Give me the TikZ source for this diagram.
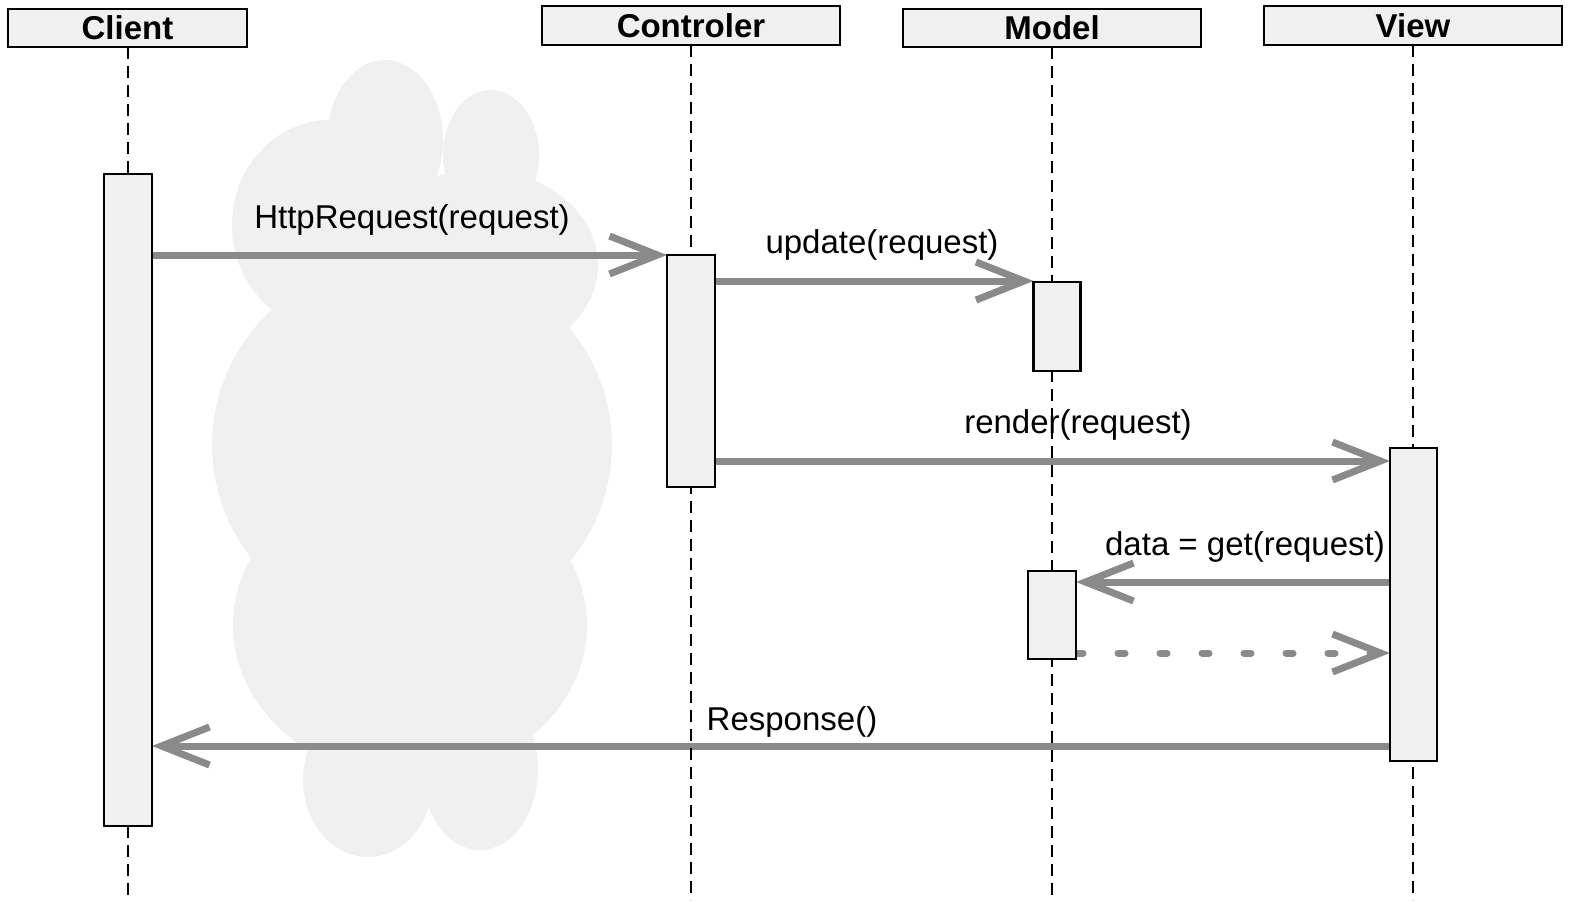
\documentclass[tikz,border=0pt]{standalone}
\usepackage{fontspec}
\setmainfont{Liberation Sans}
\usetikzlibrary{arrows.meta}
\definecolor{boxfill}{HTML}{F0F0F0}
\definecolor{cloudfill}{HTML}{F0F0F0}
\definecolor{msgcol}{HTML}{8A8A8A}
\begin{document}
\begin{tikzpicture}[x=1pt,y=-1pt,
  header/.style={draw=black, line width=2.5pt, fill=boxfill, inner sep=0pt, outer sep=0pt,
    font=\bfseries\fontsize{33}{40}\selectfont},
  act/.style={draw=black, line width=2.5pt, fill=boxfill, inner sep=0pt, outer sep=0pt},
  life/.style={draw=black, line width=2pt, dash pattern=on 12pt off 7pt},
  msg/.style={draw=msgcol, line width=7pt, -{Straight Barb[length=48pt,width=38pt]}},
  ret/.style={msg, dash pattern=on 7pt off 35pt, line cap=round},
  lbl/.style={font=\fontsize{33}{40}\selectfont, inner sep=0pt, anchor=base}]
\useasboundingbox (0,0) rectangle (1580,922);

% cloud backdrop
\begin{scope}[fill=cloudfill]
  \fill (385,140) ellipse [x radius=58, y radius=80];
  \fill (491,155) ellipse [x radius=48, y radius=65];
  \fill (330,225) ellipse [x radius=98, y radius=105];
  \fill (480,265) ellipse [x radius=118, y radius=95];
  \fill (412,445) ellipse [x radius=200, y radius=190];
  \fill (410,625) ellipse [x radius=177, y radius=153];
  \fill (368,780) ellipse [x radius=65, y radius=77];
  \fill (480,770) ellipse [x radius=58, y radius=80];
\end{scope}

% header boxes
\node[header, minimum width=239, minimum height=38] (hc) at (127.5,28) {Client};
\node[header, minimum width=298, minimum height=39] (hk) at (691,25.5) {Controler};
\node[header, minimum width=298, minimum height=38] (hm) at (1052,28) {Model};
\node[header, minimum width=298, minimum height=39] (hv) at (1413,25.5) {View};

\coordinate (bottom) at (0,900);
\coordinate (y1) at (0,255);
\coordinate (y2) at (0,281);
\coordinate (y3) at (0,461);
\coordinate (y4) at (0,582);
\coordinate (y5) at (0,653);
\coordinate (y6) at (0,746);

% messages
\node[act, draw=none, fill=none, minimum width=48, minimum height=652] (ca) at (128,500) {};
\node[act, draw=none, fill=none, minimum width=48, minimum height=232] (ck) at (691,371) {};
\node[act, draw=none, fill=none, minimum width=47, minimum height=89] (cm1) at (1057,326.5) {};
\node[act, draw=none, fill=none, minimum width=47, minimum height=313] (cv) at (1413.5,604.5) {};
\node[act, draw=none, fill=none, minimum width=48, minimum height=88] (cm2) at (1052,615) {};

\draw[msg] (ca.east |- y1) -- (ck.west |- y1);
\draw[msg] (ck.east |- y2) -- (cm1.west |- y2);
\draw[msg] (ck.east |- y3) -- (cv.west |- y3);
\draw[msg] (cv.west |- y4) -- (cm2.east |- y4);
\draw[ret] (cm2.east |- y5) -- (cv.west |- y5);
\draw[msg] (cv.west |- y6) -- (ca.east |- y6);

% labels
\node[lbl] (l1) at (412,228) {HttpRequest(request)};
\node[lbl] (l2) at (882,253) {update(request)};
\node[lbl] (l3) at (1078,433) {render(request)};
\node[lbl] (l4) at (1245,555) {data = get(request)};
\node[lbl] (l5) at (792,730) {Response()};

% lifelines (over arrows and labels)
\draw[life] (hc.south) -- (hc.south |- bottom);
\draw[life] (hk.south) -- (hk.south |- bottom);
\draw[life] (hm.south) -- (hm.south |- bottom);
\draw[life] (hv.south) -- (hv.south |- bottom);

% activation boxes on top
\draw[act] (ca.north west) rectangle (ca.south east);
\draw[act] (ck.north west) rectangle (ck.south east);
\draw[act] (cm1.north west) rectangle (cm1.south east);
\draw[act] (cv.north west) rectangle (cv.south east);
\draw[act] (cm2.north west) rectangle (cm2.south east);
\end{tikzpicture}
\end{document}
